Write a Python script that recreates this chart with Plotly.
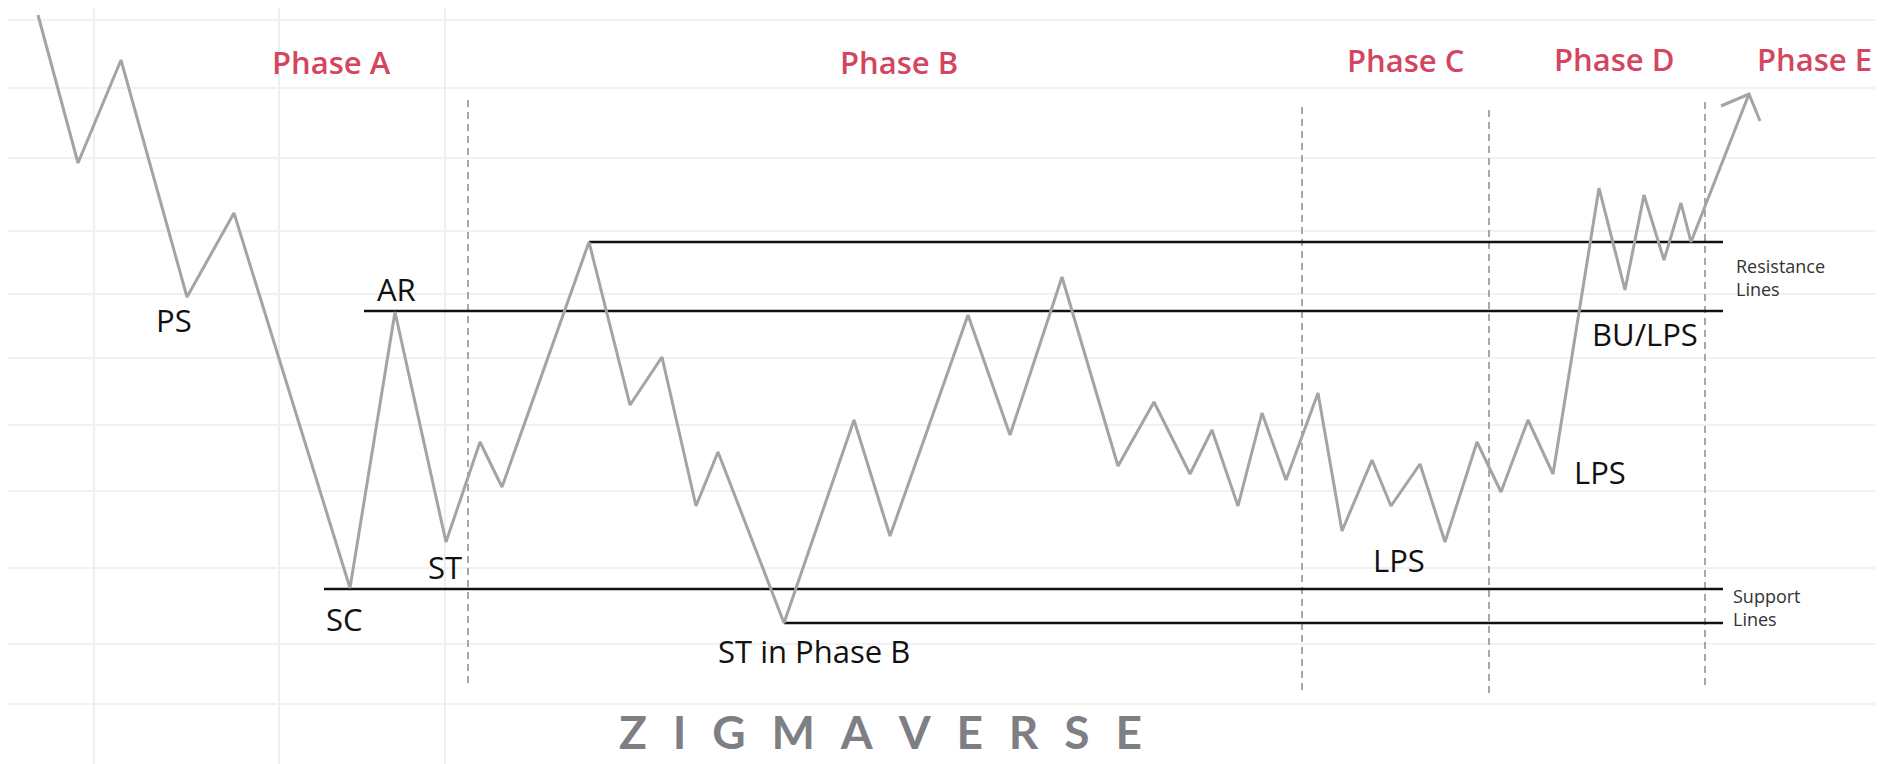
import plotly.graph_objects as go

# ---- price path (time, price) ----
path_t = [38, 78, 121, 187, 234, 350, 395, 446, 480, 502, 589, 630, 662, 696, 718, 784,
          854, 890, 968, 1010, 1062, 1118, 1154, 1190, 1212, 1238, 1262, 1286, 1318, 1342,
          1372, 1391, 1420, 1445, 1477, 1501, 1528, 1553, 1599, 1625, 1644, 1664, 1681,
          1691, 1749]
path_p = [749, 601, 704, 467, 551, 176, 452, 222, 322, 277, 522, 359, 407, 258, 312, 141,
          344, 228, 449, 329, 487, 298, 362, 290, 334, 258, 351, 284, 371, 233,
          304, 258, 300, 222, 322, 272, 344, 290, 576, 474, 569, 504, 561,
          522, 670]

# arrow head at the end of the path
arrow_t = [1721, 1749, 1760]
arrow_p = [658, 670, 643]

# ---- support / resistance levels: (start time, end time, price) ----
level_start = [589, 364, 324, 784]
level_end = [1723, 1723, 1723, 1723]
level_price = [522, 453, 175, 141]

# ---- phase boundaries (dashed) ----
phase_bound_t = [468, 1302, 1489, 1705]
phase_bound_lo = [81, 74, 71, 79]
phase_bound_hi = [666, 657, 657, 664]

# ---- phase titles ----
phase_names = ["Phase A", "Phase B", "Phase C", "Phase D", "Phase E"]
phase_t = [331, 899, 1405, 1614, 1814]
phase_p = [702, 702, 704, 705, 705]

# ---- event labels ----
event_names = ["PS", "AR", "SC", "ST", "ST in Phase B", "LPS", "LPS", "BU/LPS"]
event_t = [174, 396, 344, 445, 814, 1399, 1600, 1645]
event_p = [444, 475, 145, 197, 113, 204, 292, 430]

# ---- side notes ----
note_text = ["Resistance<br>Lines", "Support<br>Lines"]
note_t = [1734, 1731]
note_p = [487, 157]

# ---- background grid ----
grid_x = [94, 279, 445]
grid_y = [744, 676, 606, 533, 470, 406, 339, 273, 196, 120, 60]

watermark = "\u2002\u200a".join(list("ZIGMAVERSE"))

# The page body adds an 8 px offset, so the figure is 8 px smaller and the
# axis ranges start 8 units later, keeping one axis unit per screen pixel.
W, H = 1875, 756
LINE_GRAY = "#a3a3a8"
PHASE_RED = "#d4465f"

fig = go.Figure()

# dashed phase boundaries
bx, by = [], []
for t, lo, hi in zip(phase_bound_t, phase_bound_lo, phase_bound_hi):
    bx += [t, t, None]
    by += [lo, hi, None]
fig.add_trace(go.Scatter(x=bx, y=by, mode="lines",
                         line=dict(color="#8c8c8c", width=1.5, dash="7px,5px"),
                         hoverinfo="skip", showlegend=False))

# support / resistance levels
lx, ly = [], []
for s, e, p in zip(level_start, level_end, level_price):
    lx += [s, e, None]
    ly += [p, p, None]
fig.add_trace(go.Scatter(x=lx, y=ly, mode="lines",
                         line=dict(color="#111111", width=2.6),
                         hoverinfo="skip", showlegend=False))

# price path
fig.add_trace(go.Scatter(x=path_t, y=path_p, mode="lines",
                         line=dict(color=LINE_GRAY, width=3),
                         showlegend=False))
fig.add_trace(go.Scatter(x=arrow_t, y=arrow_p, mode="lines",
                         line=dict(color=LINE_GRAY, width=3),
                         hoverinfo="skip", showlegend=False))

annotations = []
for name, t, p in zip(phase_names, phase_t, phase_p):
    annotations.append(dict(x=t, y=p, xref="x", yref="y", text=name, showarrow=False,
                            xanchor="center", yanchor="middle",
                            font=dict(family="Open Sans", size=31, color=PHASE_RED,
                                      weight=600)))
for name, t, p in zip(event_names, event_t, event_p):
    annotations.append(dict(x=t, y=p, xref="x", yref="y", text=name, showarrow=False,
                            xanchor="center", yanchor="middle",
                            font=dict(family="Open Sans", size=31, color="#111111")))
for name, t, p in zip(note_text, note_t, note_p):
    annotations.append(dict(x=t, y=p, xref="x", yref="y", text=name, showarrow=False,
                            xanchor="left", yanchor="middle", align="left",
                            font=dict(family="Open Sans", size=18, color="#333333")))
annotations.append(dict(x=880, y=33, xref="x", yref="y", text=watermark, showarrow=False,
                        xanchor="center", yanchor="middle",
                        font=dict(family="Lato", size=46, color="#7e7e85", weight="bold")))

fig.update_layout(
    width=W, height=H,
    margin=dict(l=0, r=0, t=0, b=0),
    paper_bgcolor="white", plot_bgcolor="white",
    annotations=annotations,
    xaxis=dict(range=[8, 8 + W], tickvals=grid_x, showgrid=True, gridcolor="#efeff1",
               gridwidth=1.5, showticklabels=False, zeroline=False, showline=False,
               ticks=""),
    yaxis=dict(range=[0, H], tickvals=grid_y, showgrid=True, gridcolor="#f1f1f3",
               gridwidth=1.5, showticklabels=False, zeroline=False, showline=False,
               ticks=""),
)

fig.write_html("out.html")
